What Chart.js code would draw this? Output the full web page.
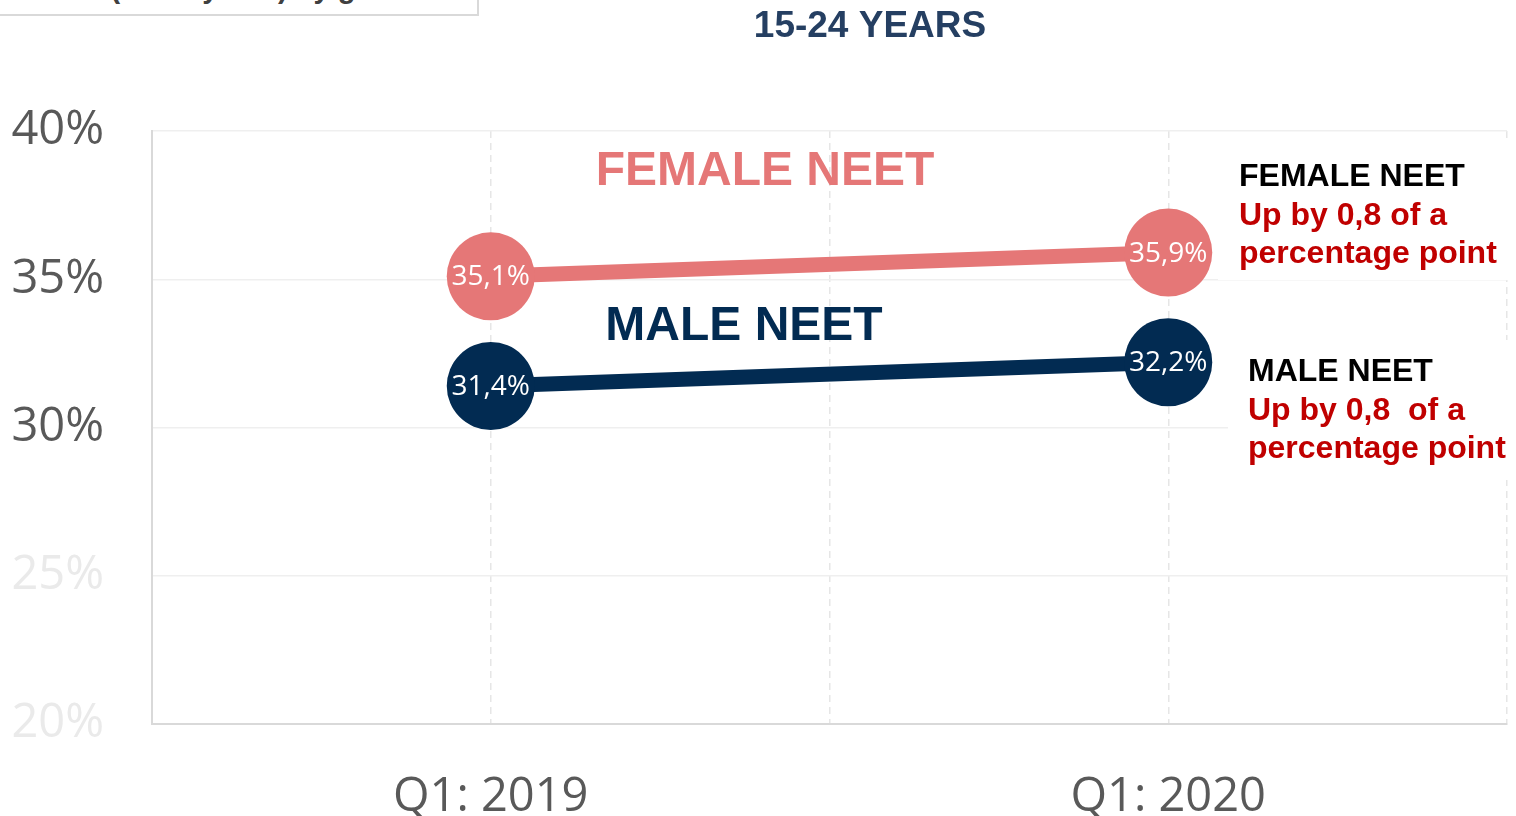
<!DOCTYPE html>
<html>
<head>
<meta charset="utf-8">
<script src="https://cdn.jsdelivr.net/npm/chart.js@4"></script>
<style>
  html, body { margin: 0; padding: 0; background: #fff; overflow: hidden; }
  #wrap { position: relative; width: 1516px; height: 816px; }
  #topBox {
    position: absolute; left: -2px; top: -40px; width: 477px; height: 52px;
    border: 2px solid #d9d9d9; background: #fff; overflow: hidden;
  }
  #topBox span {
    position: absolute; left: 25px; top: 12px; white-space: nowrap;
    font: bold 29px/29px "Liberation Sans", Arial, sans-serif; color: #404040;
  }
</style>
</head>
<body>
<div id="wrap">
  <canvas id="chart" width="1516" height="816"></canvas>
  <div id="topBox"><span>NEET (15-24 years) by gender</span></div>
</div>
<script>
const categories = ['Q1: 2019', 'Q1: 2020'];
const femaleValues = [35.1, 35.9];
const maleValues = [31.4, 32.2];
const chartTitle = '15-24 YEARS';
const femaleNote = ['FEMALE NEET', 'Up by 0,8 of a', 'percentage point'];
const maleNote = ['MALE NEET', 'Up by 0,8  of a', 'percentage point'];

const PINK = '#e57777';
const NAVY = '#022b52';
const RED = '#c00000';

function toPoints(values){
    return values.map((v, i) => ({x: i, y: v}));
}

function fmt(v){
    return v.toFixed(1).replace('.', ',') + '%';
}

// white value text inside the big circles
const pointLabels = {
    id: 'pointLabels',
    afterDatasetsDraw(chart){
        const ctx = chart.ctx;
        ctx.save();
        ctx.font = '28px "Open Sans", sans-serif';
        ctx.fillStyle = '#ffffff';
        ctx.textAlign = 'center';
        ctx.textBaseline = 'middle';
        chart.data.datasets.forEach((ds, di) => {
            chart.getDatasetMeta(di).data.forEach((pt, i) => {
                ctx.fillText(fmt(ds.data[i].y), pt.x, pt.y + 1);
            });
        });
        ctx.restore();
    }
};

// title, series names and the notes on the right
const notes = {
    id: 'notes',
    beforeDatasetsDraw(chart){
        const ctx = chart.ctx;
        ctx.save();
        ctx.fillStyle = '#ffffff';
        ctx.fillRect(1218, 140, 298, 140);
        ctx.fillRect(1228, 340, 288, 140);

        ctx.textBaseline = 'alphabetic';
        ctx.textAlign = 'center';
        ctx.font = 'bold 37px "Liberation Sans", Arial, sans-serif';
        ctx.fillStyle = '#253f62';
        ctx.fillText(chartTitle, 870, 37);

        ctx.font = 'bold 48px "Liberation Sans", Arial, sans-serif';
        ctx.fillStyle = PINK;
        ctx.fillText('FEMALE NEET', 765, 185);
        ctx.fillStyle = NAVY;
        ctx.fillText('MALE NEET', 744, 340);

        ctx.textAlign = 'left';
        const drawNote = (lines, x, y) => {
            ctx.font = 'bold 32px "Liberation Sans", Arial, sans-serif';
            ctx.fillStyle = '#000000';
            ctx.fillText(lines[0], x, y);
            ctx.fillStyle = RED;
            ctx.fillText(lines[1], x, y + 39);
            ctx.fillText(lines[2], x, y + 77);
        };
        drawNote(femaleNote, 1239, 186);
        drawNote(maleNote, 1248, 381);
        ctx.restore();
    }
};

new Chart(document.getElementById('chart'), {
    type: 'line',
    data: {
        datasets: [{
            label: 'FEMALE NEET',
            data: toPoints(femaleValues),
            borderColor: PINK,
            backgroundColor: PINK,
            borderWidth: 15,
            pointRadius: 44,
            pointBorderWidth: 0,
            pointHoverRadius: 44,
            clip: false
        }, {
            label: 'MALE NEET',
            data: toPoints(maleValues),
            borderColor: NAVY,
            backgroundColor: NAVY,
            borderWidth: 15,
            pointRadius: 44,
            pointBorderWidth: 0,
            pointHoverRadius: 44,
            clip: false
        }]
    },
    options: {
        responsive: false,
        animation: false,
        layout: {
            autoPadding: false,
            padding: {top: 131, right: 9, bottom: 0, left: 0}
        },
        plugins: {
            legend: {display: false},
            tooltip: {enabled: false}
        },
        scales: {
            x: {
                type: 'linear',
                min: -0.5,
                max: 1.5,
                afterFit: (scale) => { scale.height = 92; },
                ticks: {
                    stepSize: 0.5,
                    autoSkip: false,
                    maxRotation: 0,
                    padding: 0,
                    color: '#595959',
                    font: {family: '"Open Sans", sans-serif', size: 47, lineHeight: 3.115},
                    callback: (v) => Number.isInteger(v) ? categories[v] : ''
                },
                grid: {
                    drawTicks: false,
                    lineWidth: 1.5,
                    color: (c) => c.index === 0 ? 'rgba(0,0,0,0)' : '#e6e6e6'
                },
                border: {color: '#d9d9d9', width: 2, dash: [7, 5]}
            },
            y: {
                min: 20,
                max: 40,
                afterFit: (scale) => { scale.width = 152; },
                ticks: {
                    stepSize: 5,
                    padding: 48,
                    font: {family: '"Open Sans", sans-serif', size: 47},
                    color: (c) => c.tick.value >= 30 ? '#595959' : '#eaeaea',
                    callback: (v) => v + '%'
                },
                grid: {
                    drawTicks: false,
                    lineWidth: 1.5,
                    color: (c) => c.index === 0 ? 'rgba(0,0,0,0)' : '#efefef'
                },
                border: {color: '#d9d9d9', width: 2}
            }
        }
    },
    plugins: [notes, pointLabels]
});
</script>
</body>
</html>
